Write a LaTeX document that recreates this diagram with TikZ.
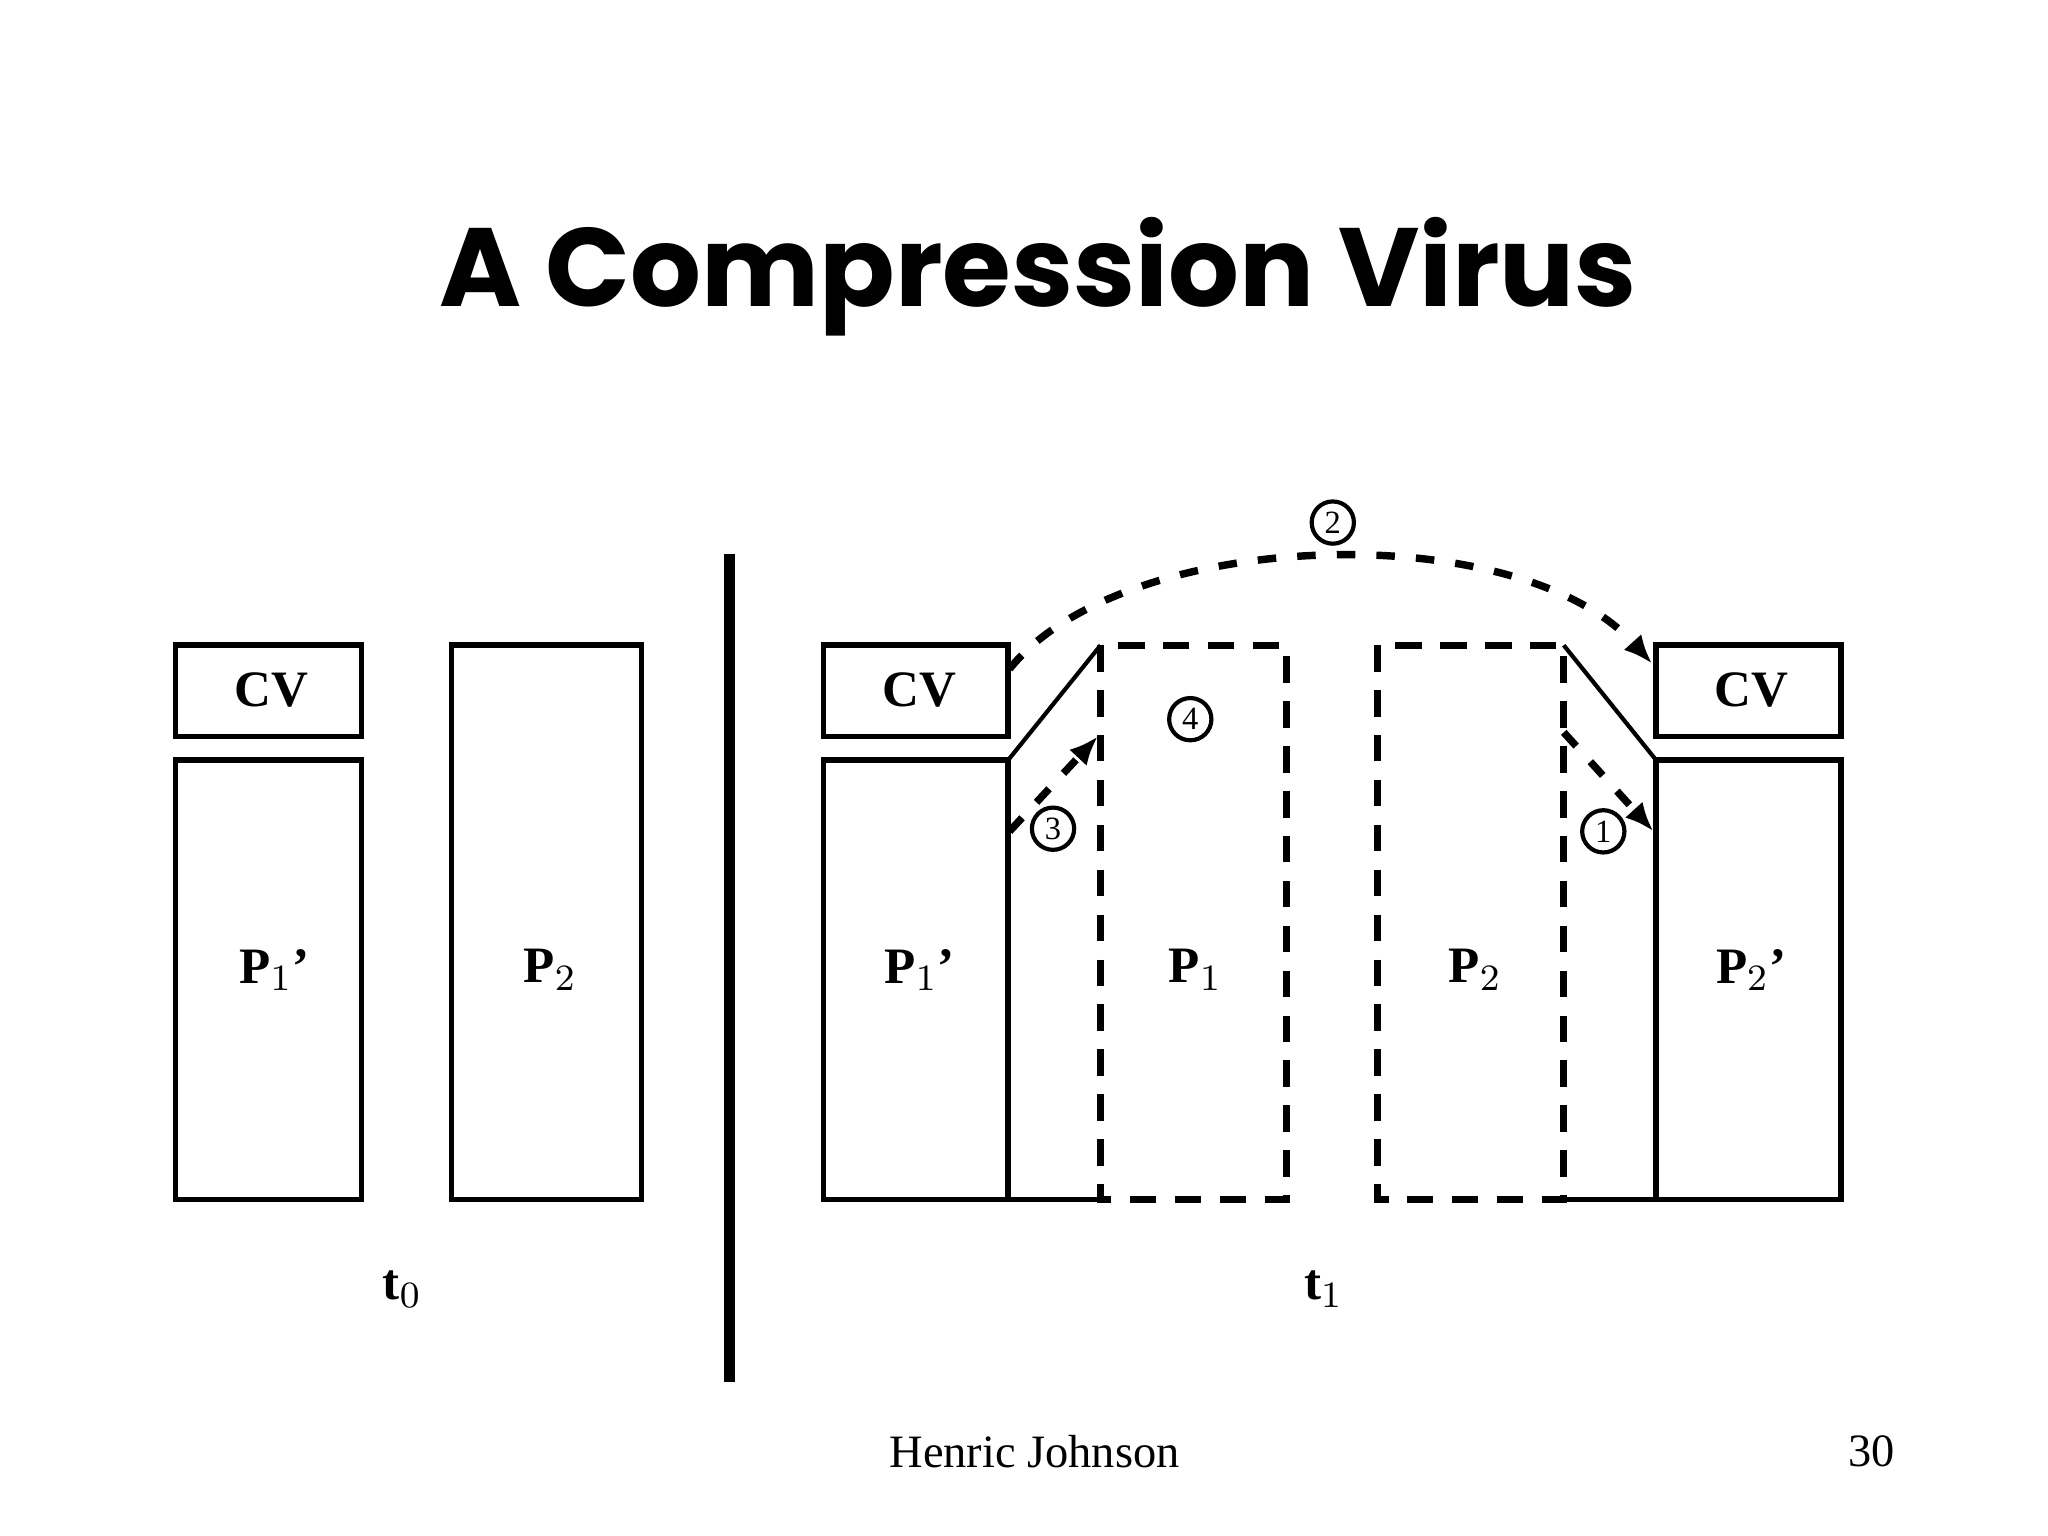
\documentclass[tikz,border=0pt]{standalone}
\usepackage{fontspec}
\setmainfont{Liberation Serif}
\newfontfamily\titlefont{Poppins}
\usetikzlibrary{arrows.meta}
\begin{document}
\begin{tikzpicture}[x=0.01cm,y=-0.01cm,
  box/.style={draw,line width=1.2pt},
  dbox/.style={draw,line width=1.6pt,dash pattern=on 0.2cm off 0.14cm},
  darr/.style={line width=1.6pt,dash pattern=on 0.14cm off 0.16cm,-{Latex[length=0.22cm,width=0.18cm]}},
  lab/.style={font=\bfseries\fontsize{11}{11}\selectfont},
  num/.style={draw,circle,inner sep=0pt,minimum size=0.32cm,line width=0.9pt,font=\fontsize{7}{7}\selectfont,fill=white}]
\useasboundingbox (0,0) rectangle (1552,1164);
\node[font=\titlefont\bfseries\fontsize{24}{24}\selectfont] (title) at (787,210) {A Compression Virus};
% left
\draw[box] (133,489) rectangle (274,558); \node[lab] (cvl) at (206,523) {CV};
\draw[box] (133,576) rectangle (274,909); \node[lab] (p1l) at (208,735) {P$_1$'};
\draw[box] (342,489) rectangle (486,909); \node[lab] (p2l) at (417,735) {P$_2$};
\node[font=\bfseries\fontsize{11}{11}\selectfont] (t0) at (305,977) {t$_0$};
\draw[line width=2.4pt] (553,420) -- (553,1047);
% right
\draw[box] (624,489) rectangle (764,558); \node[lab] (cvr) at (697,523) {CV};
\draw[box] (624,576) rectangle (764,909); \node[lab] (p1r) at (697,735) {P$_1$'};
\draw[line width=0.9pt] (764,576) -- (834,489);
\draw[line width=0.9pt] (764,909) -- (834,909);
\draw[line width=0.9pt] (1185,489) -- (1255,576);
\draw[line width=0.9pt] (1185,909) -- (1255,909);
\draw[dbox] (834,489) rectangle (975,909); \node[lab] (p1) at (906,735) {P$_1$};
\draw[dbox] (1044,489) rectangle (1185,909); \node[lab] (p2) at (1118,735) {P$_2$};
\draw[box] (1255,489) rectangle (1395,558); \node[lab] (cv2) at (1327,523) {CV};
\draw[box] (1255,576) rectangle (1395,909); \node[lab] (p2p) at (1327,735) {P$_2$'};
\node[font=\bfseries\fontsize{11}{11}\selectfont] (t1) at (1003,977) {t$_1$};
% arrows
\coordinate (a2s) at (765,507);
\coordinate (a2e) at (1252,503);
\draw[darr] (a2s) .. controls (850,400) and (1150,390) .. (a2e);
\node[num] (n2) at (1010,396) {2};
\coordinate (a3s) at (765,630);
\coordinate (a3e) at (832,558);
\draw[darr] (a3s) -- (a3e);
\node[num] (n3) at (798,628) {3};
\coordinate (a1s) at (1185,555);
\coordinate (a1e) at (1253,630);
\draw[darr] (a1s) -- (a1e);
\node[num] (n1) at (1215,630) {1};
\node[num] (n4) at (902,545) {4};
\node[font=\fontsize{10}{10}\selectfont] (au) at (784,1100) {Henric Johnson};
\node[font=\fontsize{10}{10}\selectfont] (pg) at (1418,1100) {30};
\end{tikzpicture}
\end{document}
